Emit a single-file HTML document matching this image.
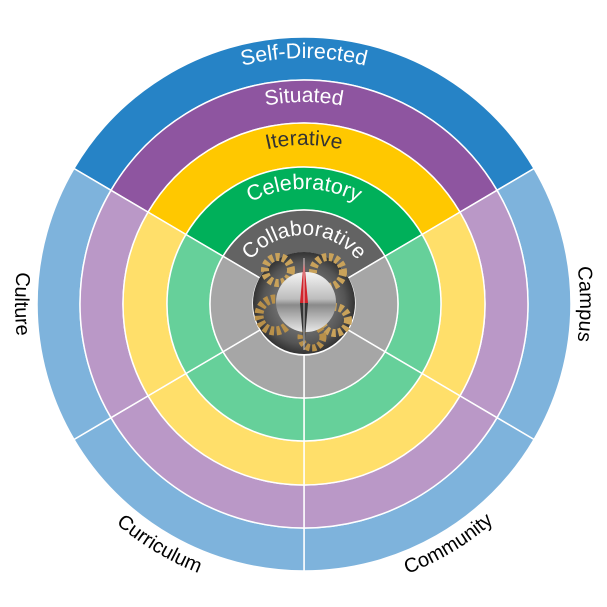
<!DOCTYPE html>
<html><head><meta charset="utf-8"><style>
html,body{margin:0;padding:0;background:#fff;}
svg{display:block;font-family:"Liberation Sans",sans-serif;}
</style></head><body>
<svg id="s" width="607" height="607" viewBox="0 0 607 607" xmlns="http://www.w3.org/2000/svg">
<defs>
<radialGradient id="metal" cx="50%" cy="50%" r="50%">
<stop offset="0" stop-color="#9a9a9a"/><stop offset="0.8" stop-color="#555"/><stop offset="1" stop-color="#333"/>
</radialGradient>
<linearGradient id="silver" x1="0" y1="0" x2="0" y2="1">
<stop offset="0" stop-color="#f4f4f4"/><stop offset="0.45" stop-color="#bdbdbd"/><stop offset="0.55" stop-color="#8a8a8a"/><stop offset="1" stop-color="#e8e8e8"/>
</linearGradient>
</defs>
<g id="rings"></g>
<g id="paths"></g>
<g id="center">
<circle cx="304" cy="303" r="51" fill="url(#metal)"/>
<circle cx="278" cy="270" r="13" fill="none" stroke="#c9a25a" stroke-width="8" stroke-dasharray="4 2.5"/>
<circle cx="328" cy="272" r="15" fill="none" stroke="#c9a25a" stroke-width="8" stroke-dasharray="4 2.5"/>
<circle cx="275" cy="315" r="16" fill="none" stroke="#b8904a" stroke-width="9" stroke-dasharray="4 2.5"/>
<circle cx="335" cy="320" r="13" fill="none" stroke="#c9a25a" stroke-width="8" stroke-dasharray="4 2.5"/>
<circle cx="312" cy="337" r="11" fill="none" stroke="#b8904a" stroke-width="7" stroke-dasharray="4 2.5"/>
<circle cx="306" cy="302" r="30" fill="url(#silver)"/>
<polygon points="304,258 300,303 308,303" fill="#d2232a"/>
<polygon points="304,350 300,303 308,303" fill="#333"/>
<line x1="304" y1="258" x2="304" y2="350" stroke="#eee" stroke-width="0.8"/>
</g>
<g id="labels" font-size="21">
<text fill="#fff" font-size="21.5"><textPath href="#t1" startOffset="50%" text-anchor="middle">Self-Directed</textPath></text>
<text fill="#fff"><textPath href="#t2" startOffset="50%" text-anchor="middle">Situated</textPath></text>
<text fill="#333"><textPath href="#t3" startOffset="50%" text-anchor="middle">Iterative</textPath></text>
<text fill="#fff" font-size="21.5"><textPath href="#t4" startOffset="50%" text-anchor="middle">Celebratory</textPath></text>
<text fill="#fff"><textPath href="#t5" startOffset="50%" text-anchor="middle">Collaborative</textPath></text>
<text fill="#000" font-size="20"><textPath href="#t6" startOffset="50%" text-anchor="middle">Culture</textPath></text>
<text fill="#000" font-size="20"><textPath href="#t7" startOffset="50%" text-anchor="middle">Campus</textPath></text>
<text fill="#000" font-size="20"><textPath href="#t8" startOffset="50%" text-anchor="middle">Curriculum</textPath></text>
<text fill="#000" font-size="20"><textPath href="#t9" startOffset="50%" text-anchor="middle">Community</textPath></text>
</g>
</svg>
<script>
(function(){
var NS="http://www.w3.org/2000/svg",cx=304,cy=304;
function pt(r,a){a=a*Math.PI/180;return (cx+r*Math.cos(a)).toFixed(2)+","+(cy+r*Math.sin(a)).toFixed(2);}
function sector(r1,r2,a1,a2){
 var lg=(a2-a1)>180?1:0;
 return "M"+pt(r2,a1)+"A"+r2+","+r2+" 0 "+lg+" 1 "+pt(r2,a2)+"L"+pt(r1,a2)+"A"+r1+","+r1+" 0 "+lg+" 0 "+pt(r1,a1)+"Z";
}
var rings=[[224,267,"#2683C6","#7EB3DC"],[181,224,"#8E55A0","#BA98C7"],[137,181,"#FFC800","#FFDF6A"],[94,137,"#00B05A","#66D09A"],[51,94,"#636363","#A6A6A6"]];
var A=30.5;
var segs=[[-180+A,-A,0],[-A,A,1],[A,90,1],[90,180-A,1],[180-A,180+A,1]];
var g=document.getElementById("rings");
rings.forEach(function(rg){segs.forEach(function(s){
 var p=document.createElementNS(NS,"path");
 p.setAttribute("d",sector(rg[0],rg[1],s[0],s[1]));
 p.setAttribute("fill",s[2]?rg[3]:rg[2]);
 p.setAttribute("stroke","#fff");p.setAttribute("stroke-width","1.5");
 g.appendChild(p);});});
var pg=document.getElementById("paths");
function arc(id,r,a1,a2,sw){
 var p=document.createElementNS(NS,"path");
 p.setAttribute("id",id);p.setAttribute("fill","none");
 p.setAttribute("d","M"+pt(r,a1)+"A"+r+","+r+" 0 0 "+sw+" "+pt(r,a2));
 pg.appendChild(p);
}
arc("t1",246,-150,-30,1);
arc("t2",202,-150,-30,1);
arc("t3",159,-150,-30,1);
arc("t4",115,-160,-20,1);
arc("t5",69,-178,-2,1);
arc("t6",289,215,145,0);
arc("t7",276,-30,30,1);
arc("t8",289,148,94,0);
arc("t9",289,86,32,0);
})();
</script>
</body></html>
